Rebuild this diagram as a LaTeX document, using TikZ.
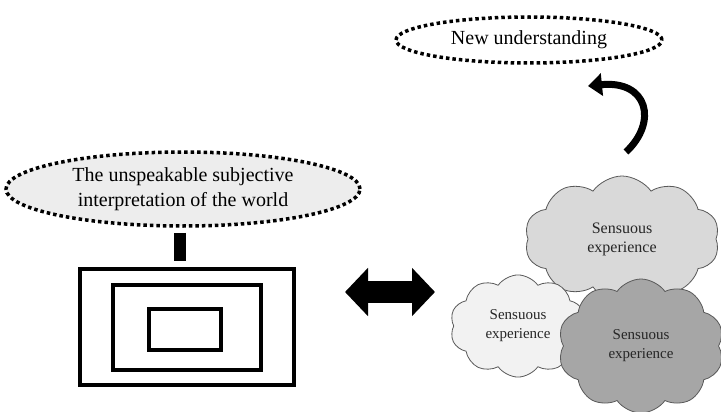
\documentclass[tikz,border=0pt]{standalone}
\usepackage{fontspec}
\setmainfont{Liberation Serif}
\usetikzlibrary{shapes.geometric, shapes.symbols, arrows.meta}

\begin{document}
\begin{tikzpicture}[x=1pt, y=-1pt,
  dotbubble/.style={ellipse, draw, line width=3.5pt, dash pattern=on 3.5pt off 3pt,
    inner sep=0pt, align=center, font=\fontsize{20}{25}\selectfont},
  frame/.style={draw, line width=4pt, inner sep=0pt},
  puff/.style={cloud, cloud puffs=10, cloud puff arc=110, draw=black!65, line width=0.8pt,
    inner sep=0pt, align=center, text=black!85},
  fatarrow/.style={line width=7pt, -{Triangle[width=22pt,length=14pt]}},
]

  % --- 1. canvas ---
  \useasboundingbox (0,0) rectangle (721,412);

  % --- 2. new understanding (top) ---
  \node[dotbubble, fill=white, minimum width=266, minimum height=46] (newund) at (529,40) {New understanding};

  % curved arrow up to it
  \coordinate (cs) at (626,152);
  \coordinate (ce) at (588,86);
  \draw[fatarrow] (cs) .. controls (658,122) and (648,80) .. (ce);

  % --- 3. subjective interpretation + nested frames ---
  \node[dotbubble, fill=black!7, minimum width=354, minimum height=74] (interp) at (183,189)
    {The unspeakable subjective\\interpretation of the world};

  \node[frame, minimum width=214, minimum height=116] (outer) at (187,327) {};
  \node[frame, minimum width=148, minimum height=85] (middle) at (187,327.5) {};
  \node[frame, minimum width=72, minimum height=41] (inner) at (185,329.5) {};

  % thick bar between bubble and frame
  \draw[line width=12pt, shorten <=5pt, shorten >=6pt] ([xshift=-3pt]interp.south) -- ([xshift=-7pt]outer.north);

  % --- 4. double arrow ---
  \coordinate (dl) at (345,292);
  \coordinate (dr) at (435,292);
  \draw[line width=22pt, {Triangle[width=47pt,length=23pt]}-{Triangle[width=47pt,length=23pt]}] (dl) -- (dr);

  % --- 5. clouds of sensuous experience ---
  \node[puff, fill=black!15, minimum width=195, minimum height=126, font=\fontsize{16}{19}\selectfont]
    (sensebig) at (622,239) {Sensuous\\experience};
  \node[puff, fill=black!5, minimum width=136, minimum height=86, font=\fontsize{15}{19}\selectfont]
    (sensesmall) at (518,326) {Sensuous\\experience};
  \node[puff, fill=black!35, minimum width=166, minimum height=134, font=\fontsize{15}{19}\selectfont]
    (sensedark) at (641,346) {Sensuous\\experience};

\end{tikzpicture}
\end{document}
